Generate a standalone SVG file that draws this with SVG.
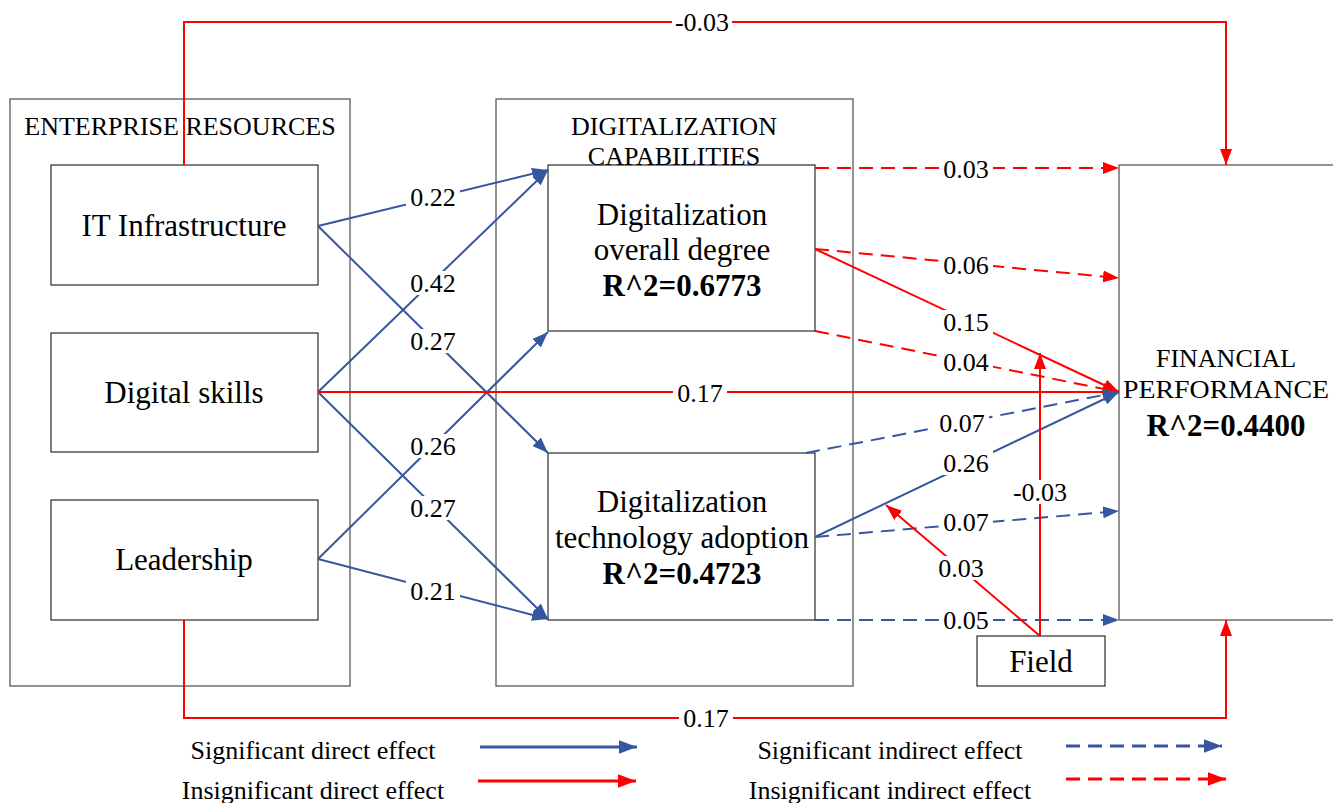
<svg xmlns="http://www.w3.org/2000/svg" width="1333" height="803" viewBox="0 0 1333 803" font-family="'Liberation Serif','Times New Roman',serif">
<style>
text{font-family:"Liberation Serif","Times New Roman",serif;fill:#000;text-anchor:middle;dominant-baseline:central}
.node{font-size:31px}
.bold{font-weight:bold}
.hdr{font-size:26px}
.lbl{font-size:26px}
.leg{font-size:26px}
.outer{fill:#fff;stroke:#595959;stroke-width:1.3}
.inner{fill:#fff;stroke:#000;stroke-width:1}
.bg{fill:#fff}
.b{stroke:#3656a0;stroke-width:2;fill:none}
.r{stroke:#ff0000;stroke-width:2;fill:none}
.d{stroke-dasharray:14 8}
.lg{stroke-width:3}
</style>
<defs>
<marker id="ab" viewBox="0 0 16 12" refX="16" refY="6" markerWidth="16" markerHeight="12" markerUnits="userSpaceOnUse" orient="auto"><path d="M0,0 L16,6 L0,12 z" fill="#3656a0"/></marker>
<marker id="ar" viewBox="0 0 16 12" refX="16" refY="6" markerWidth="16" markerHeight="12" markerUnits="userSpaceOnUse" orient="auto"><path d="M0,0 L16,6 L0,12 z" fill="#ff0000"/></marker>
<marker id="abl" viewBox="0 0 16 12" refX="16" refY="6" markerWidth="18" markerHeight="16" markerUnits="userSpaceOnUse" orient="auto"><path d="M0,0 L16,6 L0,12 z" fill="#3656a0"/></marker>
<marker id="arl" viewBox="0 0 16 12" refX="16" refY="6" markerWidth="18" markerHeight="16" markerUnits="userSpaceOnUse" orient="auto"><path d="M0,0 L16,6 L0,12 z" fill="#ff0000"/></marker>
</defs>
<rect width="1333" height="803" fill="#fff"/>
<g id="enterprise-resources">
<rect class="outer" x="10" y="99" width="340" height="587"/>
<text class="hdr" x="180" y="126">ENTERPRISE RESOURCES</text>
</g>
<g id="digitalization-capabilities">
<rect class="outer" x="496" y="99" width="357" height="587"/>
<text class="hdr" x="674" y="126">DIGITALIZATION</text>
<text class="hdr" x="674" y="156">CAPABILITIES</text>
</g>
<g id="financial-performance">
<rect class="outer" x="1119" y="165" width="220" height="455"/>
<text class="hdr" x="1226" y="358">FINANCIAL</text>
<text class="hdr" x="1226" y="389" textLength="206" lengthAdjust="spacingAndGlyphs">PERFORMANCE</text>
<text class="node bold" x="1226" y="425">R^2=0.4400</text>
</g>
<g id="it-infrastructure">
<rect class="inner" x="51" y="165" width="267" height="120"/>
<text class="node" x="184" y="225">IT Infrastructure</text>
</g>
<g id="digital-skills">
<rect class="inner" x="51" y="333" width="267" height="119"/>
<text class="node" x="184" y="392">Digital skills</text>
</g>
<g id="leadership">
<rect class="inner" x="51" y="500" width="267" height="120"/>
<text class="node" x="184" y="559">Leadership</text>
</g>
<g id="overall-degree">
<rect class="inner" x="548" y="165" width="267" height="166"/>
<text class="node" x="682" y="214">Digitalization</text>
<text class="node" x="682" y="249">overall degree</text>
<text class="node bold" x="682" y="285">R^2=0.6773</text>
</g>
<g id="technology-adoption">
<rect class="inner" x="548" y="453" width="267" height="167"/>
<text class="node" x="682" y="501">Digitalization</text>
<text class="node" x="682" y="537">technology adoption</text>
<text class="node bold" x="682" y="573">R^2=0.4723</text>
</g>
<g id="field">
<rect class="inner" x="977" y="636" width="128" height="50"/>
<text class="node" x="1041" y="661">Field</text>
</g>
<g id="connectors">
<path class="b" d="M318,226 L548,170" marker-end="url(#ab)"/>
<path class="b" d="M318,226 L548,453" marker-end="url(#ab)"/>
<path class="b" d="M318,392 L548,170" marker-end="url(#ab)"/>
<path class="b" d="M318,392 L548,619" marker-end="url(#ab)"/>
<path class="b" d="M318,559 L548,332" marker-end="url(#ab)"/>
<path class="b" d="M318,559 L548,619" marker-end="url(#ab)"/>
<path class="r" d="M318,392 L1119,392" marker-end="url(#ar)"/>
<path class="r" d="M184,165 V22 H1226 V165" marker-end="url(#ar)"/>
<path class="r" d="M184,620 V718 H1226 V620" marker-end="url(#ar)"/>
<path class="r d" d="M815,168 L1119,168" marker-end="url(#ar)"/>
<path class="r d" d="M815,249 L1119,278" marker-end="url(#ar)"/>
<path class="r" d="M815,249 L1119,392" marker-end="url(#ar)"/>
<path class="r d" d="M815,331 L1119,392" marker-end="url(#ar)"/>
<path class="b d" d="M806,453 L1119,392" marker-end="url(#ab)"/>
<path class="b" d="M815,537 L1119,392" marker-end="url(#ab)"/>
<path class="b d" d="M815,537 L1119,511" marker-end="url(#ab)"/>
<path class="b d" d="M815,620 L1119,620" marker-end="url(#ab)"/>
<path class="r" d="M1040,636 L1040,353" marker-end="url(#ar)"/>
<path class="r" d="M1040,636 L886,505" marker-end="url(#ar)"/>
<g id="labels">
<rect class="bg" x="406" y="185" width="54" height="24"/><text class="lbl" x="433" y="197">0.22</text>
<rect class="bg" x="406" y="271" width="54" height="24"/><text class="lbl" x="433" y="283">0.42</text>
<rect class="bg" x="406" y="329" width="54" height="24"/><text class="lbl" x="433" y="341">0.27</text>
<rect class="bg" x="406" y="434" width="54" height="24"/><text class="lbl" x="433" y="446">0.26</text>
<rect class="bg" x="406" y="496" width="54" height="24"/><text class="lbl" x="433" y="508">0.27</text>
<rect class="bg" x="406" y="579" width="54" height="24"/><text class="lbl" x="433" y="591">0.21</text>
<rect class="bg" x="673" y="381" width="54" height="24"/><text class="lbl" x="700" y="393">0.17</text>
<rect class="bg" x="672" y="10" width="60" height="24"/><text class="lbl" x="702" y="22">-0.03</text>
<rect class="bg" x="679" y="706" width="54" height="24"/><text class="lbl" x="706" y="718">0.17</text>
<rect class="bg" x="939" y="157" width="54" height="24"/><text class="lbl" x="966" y="169">0.03</text>
<rect class="bg" x="939" y="253" width="54" height="24"/><text class="lbl" x="966" y="265">0.06</text>
<rect class="bg" x="939" y="310" width="54" height="24"/><text class="lbl" x="966" y="322">0.15</text>
<rect class="bg" x="939" y="350" width="54" height="24"/><text class="lbl" x="966" y="362">0.04</text>
<rect class="bg" x="935" y="411" width="54" height="24"/><text class="lbl" x="962" y="423">0.07</text>
<rect class="bg" x="939" y="451" width="54" height="24"/><text class="lbl" x="966" y="463">0.26</text>
<rect class="bg" x="1010" y="480" width="60" height="24"/><text class="lbl" x="1040" y="492">-0.03</text>
<rect class="bg" x="939" y="510" width="54" height="24"/><text class="lbl" x="966" y="522">0.07</text>
<rect class="bg" x="934" y="556" width="54" height="24"/><text class="lbl" x="961" y="568">0.03</text>
<rect class="bg" x="939" y="608" width="54" height="24"/><text class="lbl" x="966" y="620">0.05</text>
</g>
</g>
<g id="legend">
<text class="leg" x="313" y="750">Significant direct effect</text>
<path class="b lg" d="M480,747 H637" marker-end="url(#abl)"/>
<text class="leg" x="313" y="790">Insignificant direct effect</text>
<path class="r lg" d="M478,781 H636" marker-end="url(#arl)"/>
<text class="leg" x="890" y="750">Significant indirect effect</text>
<path class="b d lg" d="M1066,746 H1222" marker-end="url(#abl)"/>
<text class="leg" x="890" y="790">Insignificant indirect effect</text>
<path class="r d lg" d="M1066,779 H1226" marker-end="url(#arl)"/>
</g>
</svg>
